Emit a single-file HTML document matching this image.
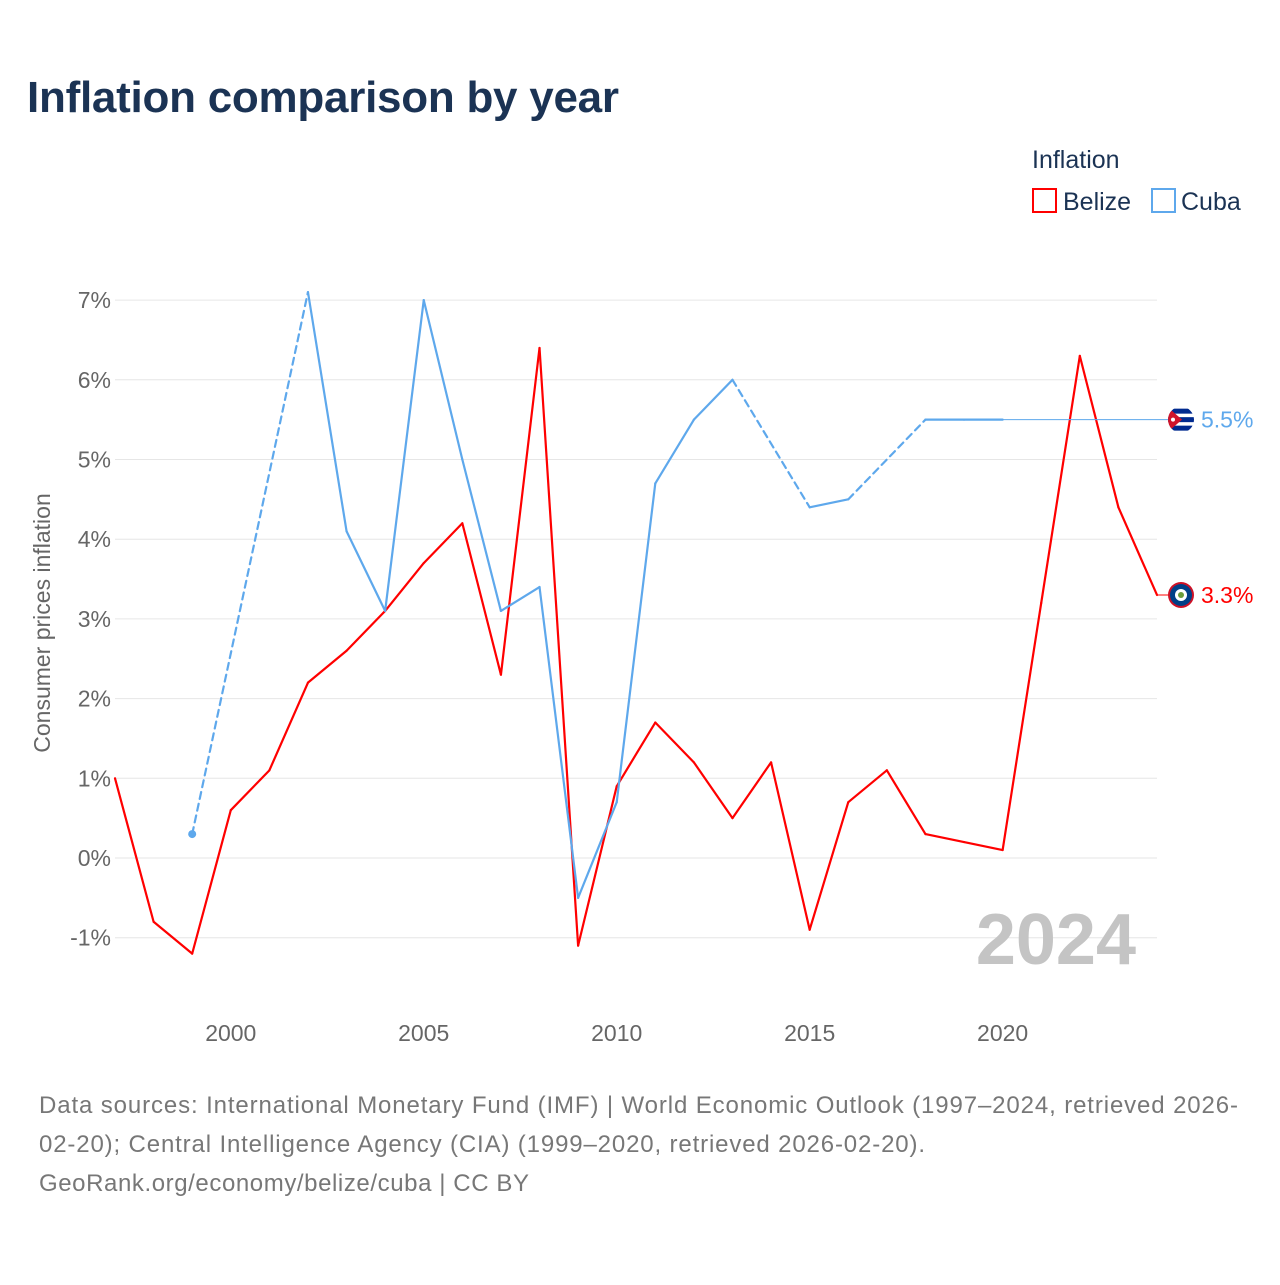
<!DOCTYPE html>
<html><head><meta charset="utf-8"><style>
body{margin:0;background:#fff;font-family:"Liberation Sans",sans-serif}
svg text{font-family:"Liberation Sans",sans-serif}
</style></head><body>
<svg id="c" width="1280" height="1280" viewBox="0 0 1280 1280">
<defs><clipPath id="fcClip"><circle cx="1181" cy="419.65" r="13"/></clipPath></defs>
<rect width="1280" height="1280" fill="#fff"/>
<text x="27" y="112" font-size="44" font-weight="bold" fill="#1b3354" textLength="592">Inflation comparison by year</text>
<g>
<text x="1032" y="168" font-size="25" fill="#1b3354">Inflation</text>
<rect x="1033" y="189" width="23" height="23" fill="none" stroke="#f00" stroke-width="2"/>
<text x="1063" y="210" font-size="25" fill="#1b3354">Belize</text>
<rect x="1152" y="189" width="23" height="23" fill="none" stroke="#5ea8ec" stroke-width="2"/>
<text x="1181" y="210" font-size="25" fill="#1b3354">Cuba</text>
</g>
<g id="grid"></g><g id="ylab"></g><g id="xlab"></g>
<text transform="translate(50,623) rotate(-90)" text-anchor="middle" font-size="23" fill="#666">Consumer prices inflation</text>
<text x="1136" y="964" text-anchor="end" font-size="72" font-weight="bold" fill="#c4c4c4">2024</text>
<g id="series"></g>
<g font-size="24" fill="#777">
<text x="39" y="1113" textLength="1199">Data sources: International Monetary Fund (IMF) | World Economic Outlook (1997–2024, retrieved 2026-</text>
<text x="39" y="1152" textLength="886">02-20); Central Intelligence Agency (CIA) (1999–2020, retrieved 2026-02-20).</text>
<text x="39" y="1191" textLength="490">GeoRank.org/economy/belize/cuba | CC BY</text>
</g>
</svg>
<script>
const years=[1997,1998,1999,2000,2001,2002,2003,2004,2005,2006,2007,2008,2009,2010,2011,2012,2013,2014,2015,2016,2017,2018,2019,2020,2021,2022,2023,2024];
const belize=[1.0,-0.8,-1.2,0.6,1.1,2.2,2.6,3.1,3.7,4.2,2.3,6.4,-1.1,0.9,1.7,1.2,0.5,1.2,-0.9,0.7,1.1,0.3,0.2,0.1,3.2,6.3,4.4,3.3];
const cuba=[null,null,0.3,null,null,7.1,4.1,3.1,7.0,5.0,3.1,3.4,-0.5,0.7,4.7,5.5,6.0,null,4.4,4.5,null,5.5,5.5,5.5,null,null,null,null];
const yTicks=[-1,0,1,2,3,4,5,6,7];
const xTicks=[2000,2005,2010,2015,2020];
const NS="http://www.w3.org/2000/svg";
const X=y=>115+(y-1997)*(1157-115)/27;
const Y=v=>858-v*79.7;
function mk(t,a,p){const e=document.createElementNS(NS,t);for(const k in a)e.setAttribute(k,a[k]);p.appendChild(e);return e;}
const G=document.getElementById('grid'),YL=document.getElementById('ylab'),XL=document.getElementById('xlab'),S=document.getElementById('series');
yTicks.forEach(t=>{
 const l=mk('line',{x1:115,x2:1157,y1:Y(t),y2:Y(t),stroke:'#e6e6e6','stroke-width':1},G);
 
 
 const tx=mk('text',{x:111,y:Y(t)+8,'text-anchor':'end','font-size':23,fill:'#666'},YL);
 tx.textContent=t+'%';
 
 
});
xTicks.forEach(t=>{
 const tx=mk('text',{x:X(t),y:1041,'text-anchor':'middle','font-size':23,fill:'#666'},XL);
 tx.textContent=t;
 
 
});
function draw(vals,color,name){
 let prev=-1;
 for(let i=0;i<vals.length;i++){
  if(vals[i]==null)continue;
  if(prev>=0){
   const l=mk('line',{x1:X(years[prev]),y1:Y(vals[prev]),x2:X(years[i]),y2:Y(vals[i]),stroke:color,'stroke-width':2.2,'stroke-linecap':'round'},S);
   if(i-prev>1)l.setAttribute('stroke-dasharray','7,5');
   
   
  }
  prev=i;
 }
}
draw(belize,'#f00','belize-line');
draw(cuba,'#5ea8ec','cuba-line');
const d=mk('circle',{cx:X(1999),cy:Y(0.3),r:4,fill:'#5ea8ec'},S);


const cLast=5.5,bLast=belize[belize.length-1];
const c1=mk('line',{x1:X(2020),y1:Y(cLast),x2:1170,y2:Y(cLast),stroke:'#5ea8ec','stroke-width':1},S);


const b1=mk('line',{x1:X(2024),y1:Y(bLast),x2:1170,y2:Y(bLast),stroke:'#f00','stroke-width':1},S);


const fc=mk('g',{'clip-path':'url(#fcClip)'},S);


const cy=Y(cLast);
mk('rect',{x:1166,y:cy-14,width:30,height:28,fill:'#fff'},fc);
mk('rect',{x:1166,y:cy-11,width:30,height:5,fill:'#002a8f'},fc);
mk('rect',{x:1166,y:cy-2.5,width:30,height:5,fill:'#002a8f'},fc);
mk('rect',{x:1166,y:cy+6,width:30,height:5,fill:'#002a8f'},fc);
mk('path',{d:`M1166 ${cy-14} L1182 ${cy} L1166 ${cy+14}Z`,fill:'#cf142b'},fc);
mk('circle',{cx:1173,cy:cy,r:2,fill:'#fff'},fc);
const fb=mk('g',{},S);


mk('circle',{cx:1181,cy:Y(bLast),r:13,fill:'#ce1126'},fb);
mk('circle',{cx:1181,cy:Y(bLast),r:11,fill:'#003f87'},fb);
mk('circle',{cx:1181,cy:Y(bLast),r:6,fill:'#fff'},fb);
mk('circle',{cx:1181,cy:Y(bLast),r:3,fill:'#6a9c3a'},fb);
const tc=mk('text',{x:1201,y:Y(cLast)+8,'font-size':23,fill:'#5ea8ec'},S);
tc.textContent=cLast.toFixed(1)+'%';


const tb=mk('text',{x:1201,y:Y(bLast)+8,'font-size':23,fill:'#f00'},S);
tb.textContent=bLast.toFixed(1)+'%';


</script>
</body></html>
